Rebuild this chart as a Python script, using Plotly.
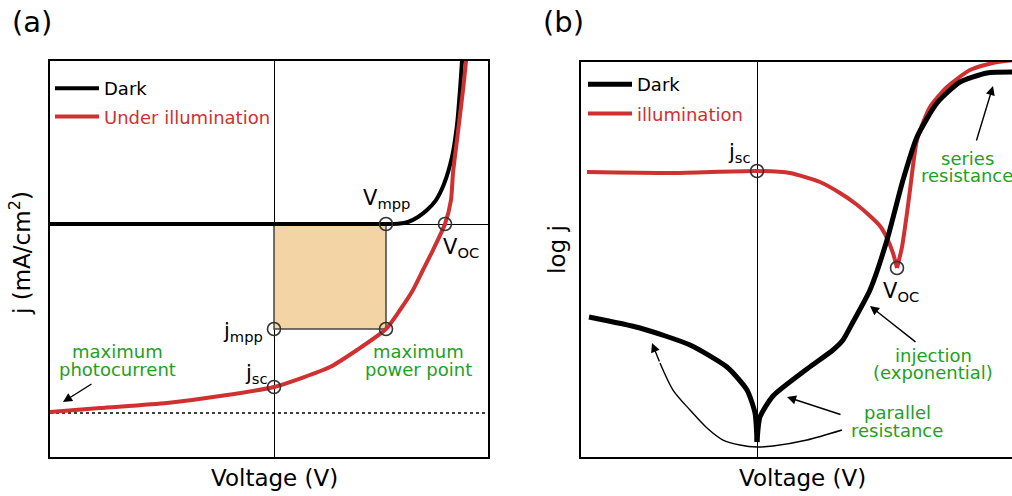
import plotly.graph_objects as go

# ---------------- panel (a): linear j-V curves ----------------
# voltage in V, current density in mA/cm^2
v_dark_a = [-1.12, 0.0, 0.53, 0.62, 0.67, 0.72, 0.765, 0.81, 0.85, 0.89,
            0.915, 0.93, 0.94, 0.945]
j_dark_a = [0.0, 0.0, 0.0, 0.03, 0.2, 0.7, 1.4, 2.4, 4.0, 6.7,
            9.9, 13.4, 16.3, 17.9]

v_light_a = [-1.12, -0.87, -0.535, -0.27, 0.0, 0.28, 0.415, 0.56, 0.63, 0.695,
             0.745, 0.795, 0.855, 0.885, 0.895, 0.915, 0.945, 0.96, 0.965]
j_light_a = [-18.8, -18.4, -17.9, -17.2, -16.3, -14.3, -12.6, -10.5, -8.6, -6.6,
             -4.6, -2.6, 0.0, 2.4, 5.1, 8.4, 13.4, 16.3, 17.5]

v_mpp, j_mpp = 0.56, -10.5
v_oc = 0.855
j_sc = -16.3
j_max_photo = -18.9

xr_a = [-1.12, 1.07]
yr_a = [-23.3, 16.3]

# ---------------- panel (b): semilog j-V curves ----------------
# voltage in V, log j in decades (arbitrary offset)
v_dark_b_rev = [-0.84, -0.585, -0.335, -0.15, -0.05, -0.01, 0.0]
lj_dark_b_rev = [3.5, 3.225, 2.8, 2.25, 1.675, 1.1, 0.375]
v_dark_b_fwd = [0.0, 0.015, 0.08, 0.25, 0.38, 0.43, 0.48, 0.565, 0.65, 0.73,
                0.80, 0.90, 1.015, 1.15, 1.29]
lj_dark_b_fwd = [0.375, 1.0, 1.525, 2.2, 2.675, 2.925, 3.375, 4.175, 5.425, 6.925,
                 8.0, 8.85, 9.375, 9.6, 9.625]

v_light_b_lo = [-0.85, -0.42, 0.0, 0.165, 0.315, 0.415, 0.495, 0.565, 0.615,
                0.65, 0.68, 0.70]
lj_light_b_lo = [7.125, 7.1, 7.15, 7.1, 6.875, 6.6, 6.325, 6.025, 5.775,
                 5.475, 5.1, 4.725]
v_light_b_hi = [0.70, 0.725, 0.75, 0.765, 0.80, 0.865, 0.95, 1.065, 1.18, 1.29]
lj_light_b_hi = [4.725, 5.25, 6.1, 6.675, 7.925, 8.75, 9.25, 9.675, 9.85, 9.925]

v_oc_b, lj_oc_b = 0.70, 4.725
lj_sc_b = 7.15

# guide arc for the parallel-resistance region
v_arc = [0.425, 0.25, 0.08, 0.0, -0.085, -0.17, -0.25, -0.335, -0.42, -0.485]
lj_arc = [0.675, 0.425, 0.275, 0.25, 0.3, 0.425, 0.725, 1.175, 1.675, 2.35]
v_arc_tip, lj_arc_tip = -0.525, 2.85

xr_b = [-0.88, 1.275]
yr_b = [0.0, 9.875]

RED = "#d03030"
GREEN = "#22a022"
FILL = "#f3d5a5"
FONT = "DejaVu Sans"

fig = go.Figure()

# power rectangle
fig.add_trace(go.Scatter(
    x=[0, v_mpp, v_mpp, 0, 0], y=[0, 0, j_mpp, j_mpp, 0],
    mode="lines", fill="toself", fillcolor=FILL,
    line=dict(color="#444", width=1.5), showlegend=False, hoverinfo="skip",
    xaxis="x", yaxis="y"))

# maximum photocurrent level
fig.add_trace(go.Scatter(
    x=xr_a, y=[j_max_photo, j_max_photo], mode="lines",
    line=dict(color="black", width=1.5, dash="dot"), showlegend=False,
    xaxis="x", yaxis="y"))

fig.add_trace(go.Scatter(
    x=v_dark_a, y=j_dark_a, mode="lines", name="Dark",
    line=dict(color="black", width=4, shape="spline", smoothing=0.6),
    legend="legend", legendgroup="dark_a", xaxis="x", yaxis="y"))
fig.add_trace(go.Scatter(
    x=v_light_a, y=j_light_a, mode="lines",
    name=f"<span style='color:{RED}'>Under illumination</span>",
    line=dict(color=RED, width=4, shape="spline", smoothing=0.6),
    legend="legend", legendgroup="light_a", xaxis="x", yaxis="y"))

fig.add_trace(go.Scatter(
    x=[v_mpp, v_oc, 0, v_mpp, 0], y=[0, 0, j_mpp, j_mpp, j_sc],
    mode="markers", showlegend=False,
    marker=dict(symbol="circle-open", size=13, color="#333", line=dict(width=1.6)),
    xaxis="x", yaxis="y"))

# panel (b)
fig.add_trace(go.Scatter(
    x=v_arc, y=lj_arc, mode="lines", showlegend=False,
    line=dict(color="black", width=1.4, shape="spline", smoothing=0.8),
    xaxis="x2", yaxis="y2"))

fig.add_trace(go.Scatter(
    x=v_light_b_lo, y=lj_light_b_lo, mode="lines",
    name=f"<span style='color:{RED}'>illumination</span>",
    line=dict(color=RED, width=4, shape="spline", smoothing=0.6),
    legend="legend2", legendgroup="light_b", legendrank=2,
    xaxis="x2", yaxis="y2"))
fig.add_trace(go.Scatter(
    x=v_light_b_hi, y=lj_light_b_hi, mode="lines", showlegend=False,
    line=dict(color=RED, width=4, shape="spline", smoothing=0.6),
    legend="legend2", legendgroup="light_b", xaxis="x2", yaxis="y2"))
fig.add_trace(go.Scatter(
    x=v_dark_b_rev, y=lj_dark_b_rev, mode="lines", name="Dark",
    line=dict(color="black", width=5, shape="spline", smoothing=0.6),
    legend="legend2", legendgroup="dark_b", legendrank=1,
    xaxis="x2", yaxis="y2"))
fig.add_trace(go.Scatter(
    x=v_dark_b_fwd, y=lj_dark_b_fwd, mode="lines", showlegend=False,
    line=dict(color="black", width=5, shape="spline", smoothing=0.6),
    legend="legend2", legendgroup="dark_b", xaxis="x2", yaxis="y2"))

fig.add_trace(go.Scatter(
    x=[0, v_oc_b], y=[lj_sc_b, lj_oc_b], mode="markers", showlegend=False,
    marker=dict(symbol="circle-open", size=13, color="#333", line=dict(width=1.6)),
    xaxis="x2", yaxis="y2"))

ann = []


def label(x, y, text, ref="", size=21, color="black", xanchor="center"):
    ann.append(dict(x=x, y=y, xref="x" + ref, yref="y" + ref, text=text,
                    showarrow=False, xanchor=xanchor, yanchor="middle",
                    font=dict(family=FONT, size=size, color=color)))


def arrow(x, y, ax, ay, ref=""):
    ann.append(dict(x=x, y=y, ax=ax, ay=ay, xref="x" + ref, yref="y" + ref,
                    axref="x" + ref, ayref="y" + ref, text="", showarrow=True,
                    arrowhead=2, arrowsize=1.3, arrowwidth=1.4, arrowcolor="black"))


# panel (a) labels
label(v_mpp, 2.5, "V<sub>mpp</sub>")
label(0.935, -2.4, "V<sub>OC</sub>")
label(-0.155, -10.8, "j<sub>mpp</sub>")
label(-0.09, -15.0, "j<sub>sc</sub>")
label(-0.785, -12.7, "maximum", size=18, color=GREEN)
label(-0.785, -14.5, "photocurrent", size=18, color=GREEN)
label(0.72, -12.7, "maximum", size=18, color=GREEN)
label(0.72, -14.5, "power point", size=18, color=GREEN)
arrow(-1.055, -17.8, -0.905, -15.9)

# panel (b) labels
label(-0.09, 7.6, "j<sub>sc</sub>", ref="2")
label(0.72, 4.125, "V<sub>OC</sub>", ref="2")
label(1.05, 7.475, "series", ref="2", size=18, color=GREEN)
label(1.05, 7.05, "resistance", ref="2", size=18, color=GREEN)
label(0.88, 2.55, "injection", ref="2", size=18, color=GREEN)
label(0.88, 2.125, "(exponential)", ref="2", size=18, color=GREEN)
label(0.70, 1.125, "parallel", ref="2", size=18, color=GREEN)
label(0.70, 0.675, "resistance", ref="2", size=18, color=GREEN)
arrow(1.18, 9.275, 1.095, 7.875, ref="2")
arrow(0.565, 3.775, 0.80, 2.85, ref="2")
arrow(0.15, 1.5, 0.425, 1.05, ref="2")
arrow(v_arc_tip, lj_arc_tip, v_arc[-1], lj_arc[-1], ref="2")

# panel letters and axis titles
for txt, x, y, ang, sz in [
    ("(a)", 0.0316, 0.956, 0, 29),
    ("(b)", 0.557, 0.956, 0, 29),
    ("Voltage (V)", 0.2717, 0.036, 0, 23),
    ("Voltage (V)", 0.7925, 0.036, 0, 23),
    ("j (mA/cm<sup>2</sup>)", 0.0198, 0.49, -90, 23),
    ("log j", 0.5504, 0.496, -90, 23),
]:
    ann.append(dict(x=x, y=y, xref="paper", yref="paper", text=txt,
                    showarrow=False, textangle=ang, xanchor="center",
                    yanchor="middle", font=dict(family=FONT, size=sz, color="black")))

axis_common = dict(showgrid=False, showticklabels=False, ticks="",
                   linecolor="black", linewidth=2, showline=True)

fig.update_layout(
    width=1012, height=496,
    margin=dict(l=0, r=0, t=0, b=0),
    paper_bgcolor="white", plot_bgcolor="white",
    font=dict(family=FONT, size=18, color="black"),
    xaxis=dict(domain=[50 / 1012, 488 / 1012], range=xr_a, mirror=True,
               zeroline=True, zerolinecolor="black", zerolinewidth=1.3,
               anchor="y", **axis_common),
    yaxis=dict(domain=[0.0786, 0.877], range=yr_a, mirror=True,
               zeroline=True, zerolinecolor="black", zerolinewidth=1.3,
               anchor="x", **axis_common),
    xaxis2=dict(domain=[581 / 1012, 1.0], range=xr_b, mirror=True,
                zeroline=True, zerolinecolor="black", zerolinewidth=1.3,
                anchor="y2", **axis_common),
    yaxis2=dict(domain=[0.0786, 0.875], range=yr_b, mirror=False,
                zeroline=False, anchor="x2", **axis_common),
    legend=dict(x=50 / 1012, y=(496 - 70) / 496, xanchor="left", yanchor="top",
                bgcolor="rgba(0,0,0,0)", font=dict(family=FONT, size=18),
                itemwidth=44, tracegroupgap=2, traceorder="grouped"),
    legend2=dict(x=583 / 1012, y=(496 - 66) / 496, xanchor="left", yanchor="top",
                 bgcolor="rgba(0,0,0,0)", font=dict(family=FONT, size=18),
                 itemwidth=44, tracegroupgap=3, traceorder="grouped"),
    annotations=ann,
)

fig.write_html("out.html")
